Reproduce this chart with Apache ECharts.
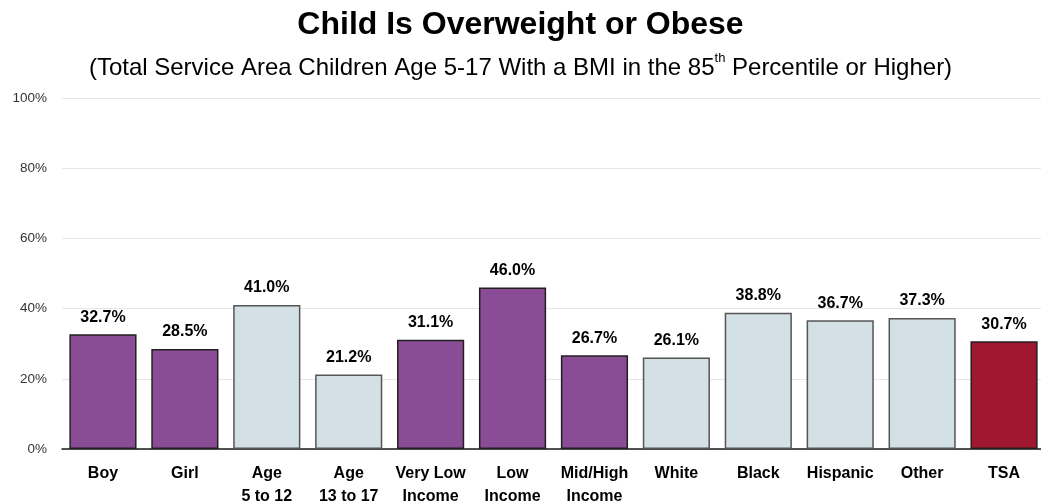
<!DOCTYPE html>
<html>
<head>
<meta charset="utf-8">
<script src="https://cdn.jsdelivr.net/npm/echarts@6/dist/echarts.min.js"></script>
<style>
html,body{margin:0;padding:0;background:#fff;}
#chart{width:1041px;height:504px;}
</style>
</head>
<body>
<div id="chart"></div>
<script>
const categories = ['Boy', 'Girl', 'Age\n5 to 12', 'Age\n13 to 17', 'Very Low\nIncome', 'Low\nIncome', 'Mid/High\nIncome', 'White', 'Black', 'Hispanic', 'Other', 'TSA'];
const values = [32.7, 28.5, 41.0, 21.2, 31.1, 46.0, 26.7, 26.1, 38.8, 36.7, 37.3, 30.7];
const groups = ['purple', 'purple', 'light', 'light', 'purple', 'purple', 'purple', 'light', 'light', 'light', 'light', 'red'];
const yTicks = [0, 20, 40, 60, 80, 100];

const palette = {
  purple: { fill: '#8B4C96', border: '#231F20' },
  light: { fill: '#D3E0E5', border: '#555555' },
  red: { fill: '#A0182F', border: '#231F20' }
};

const font = '"Liberation Sans", Arial, sans-serif';
const chart = echarts.init(document.getElementById('chart'));

chart.setOption({
  backgroundColor: '#fff',
  animation: false,
  title: [
    {
      text: 'Child Is Overweight or Obese',
      left: 'center',
      top: 4,
      textStyle: { fontFamily: font, fontWeight: 'bold', fontSize: 32, color: '#000' }
    },
    {
      text: '{a|(Total Service Area Children Age 5-17 With a BMI in the 85}{s|th}{a| Percentile or Higher)}',
      left: 'center',
      top: 47,
      textStyle: {
        rich: {
          a: { fontFamily: font, fontWeight: 'normal', fontSize: 24, color: '#000', verticalAlign: 'bottom', lineHeight: 28 },
          s: { fontFamily: font, fontWeight: 'normal', fontSize: 13, color: '#000', verticalAlign: 'top', lineHeight: 28, padding: [0, 0, 10, 0] }
        }
      }
    }
  ],
  grid: { left: 62, right: -4, top: 98, bottom: 55, containLabel: false, outerBoundsMode: 'none' },
  xAxis: {
    type: 'category',
    data: categories,
    axisLine: { show: true, lineStyle: { color: '#1a1a1a', width: 1.5 } },
    axisTick: { show: false },
    axisLabel: {
      interval: 0,
      margin: 13,
      fontFamily: font,
      fontWeight: 'bold',
      fontSize: 16,
      lineHeight: 23,
      color: '#000'
    }
  },
  yAxis: {
    type: 'value',
    min: 0,
    max: 100,
    interval: 20,
    axisLine: { show: false },
    axisTick: { show: false },
    axisLabel: {
      formatter: v => yTicks.includes(v) ? v + '%' : '',
      fontFamily: font,
      fontSize: 13.5,
      color: '#333',
      margin: 15
    },
    splitLine: { lineStyle: { color: '#E6E6E6', width: 1 } }
  },
  series: [{
    type: 'bar',
    barCategoryGap: '18%',
    data: values.map((v, i) => ({
      value: v,
      itemStyle: {
        color: palette[groups[i]].fill,
        borderColor: palette[groups[i]].border,
        borderWidth: 1.5
      }
    })),
    label: {
      show: true,
      position: 'top',
      distance: 9,
      formatter: p => p.value.toFixed(1) + '%',
      fontFamily: font,
      fontWeight: 'bold',
      fontSize: 16,
      color: '#000'
    }
  }]
});
</script>
</body>
</html>
